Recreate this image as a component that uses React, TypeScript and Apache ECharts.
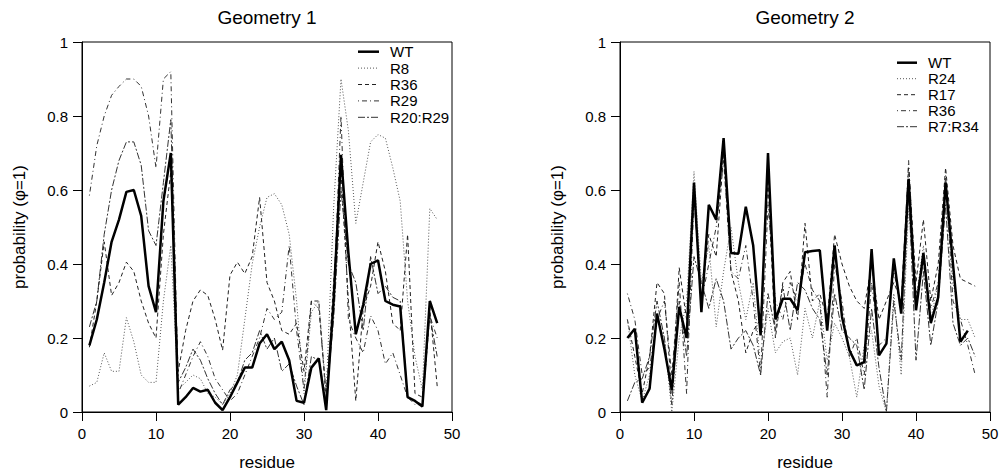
import React, { useEffect, useRef } from "react";
import * as echarts from "echarts";

// ---------- data ----------
const RESIDUES_G1 = [1,2,3,4,5,6,7,8,9,10,11,12,13,14,15,16,17,18,19,20,21,22,23,24,25,26,27,28,29,30,31,32,33,34,35,36,37,38,39,40,41,42,43,44,45,46,47,48];
const RESIDUES_G2 = [1,2,3,4,5,6,7,8,9,10,11,12,13,14,15,16,17,18,19,20,21,22,23,24,25,26,27,28,29,30,31,32,33,34,35,36,37,38,39,40,41,42,43,44,45,46,47,48];

// Geometry 1
const G1_WT = [0.18,0.25,0.35,0.46,0.52,0.595,0.60,0.53,0.34,0.27,0.57,0.70,
  0.02,0.04,0.065,0.055,0.06,0.025,0.005,0.04,0.08,0.12,0.12,0.185,0.21,0.17,0.19,0.14,0.03,0.025,0.12,0.145,0.005,
  0.30,0.695,0.43,0.21,0.29,0.40,0.41,0.30,0.29,0.285,0.04,0.03,0.015,0.30,0.24];
const G1_R8 = [0.07,0.08,0.16,0.11,0.11,0.255,0.19,0.10,0.08,0.08,0.30,0.45,
  0.06,0.08,0.10,0.09,0.05,0.04,0.02,0.05,0.10,0.25,0.40,0.50,0.58,0.59,0.56,0.48,0.30,0.05,0.27,0.30,0.05,
  0.55,0.90,0.76,0.51,0.62,0.73,0.75,0.74,0.66,0.57,0.30,0.15,0.06,0.55,0.52];
const G1_R36 = [0.175,0.30,0.46,0.315,0.35,0.405,0.38,0.30,0.24,0.20,0.48,0.65,
  0.11,0.22,0.30,0.33,0.315,0.25,0.167,0.37,0.405,0.374,0.42,0.58,0.35,0.30,0.22,0.21,0.24,0.11,0.30,0.30,0.03,
  0.35,0.65,0.30,0.03,0.28,0.34,0.46,0.38,0.24,0.22,0.48,0.05,0.04,0.28,0.07];
const G1_R29 = [0.585,0.72,0.80,0.856,0.88,0.90,0.90,0.88,0.80,0.66,0.90,0.92,
  0.05,0.10,0.15,0.19,0.15,0.09,0.06,0.03,0.05,0.10,0.15,0.20,0.28,0.25,0.27,0.45,0.22,0.06,0.30,0.28,0.05,
  0.30,0.80,0.25,0.20,0.16,0.26,0.22,0.13,0.16,0.10,0.04,0.02,0.02,0.26,0.20];
const G1_R20R29 = [0.23,0.30,0.48,0.60,0.68,0.73,0.73,0.667,0.49,0.45,0.62,0.79,
  0.08,0.12,0.17,0.14,0.09,0.05,0.02,0.06,0.08,0.14,0.16,0.22,0.17,0.20,0.11,0.13,0.07,0.02,0.15,0.14,0.03,
  0.25,0.60,0.40,0.35,0.22,0.42,0.32,0.34,0.31,0.30,0.04,0.03,0.02,0.26,0.15];

// Geometry 2
const G2_WT = [0.20,0.225,0.025,0.063,0.266,0.17,0.06,0.284,0.20,0.62,
  0.27,0.56,0.52,0.74,0.43,0.428,0.555,0.45,0.207,0.70,
  0.25,0.306,0.306,0.275,0.432,0.435,0.437,0.22,0.45,0.257,
  0.167,0.126,0.135,0.44,0.153,0.185,0.415,0.266,0.63,0.275,
  0.43,0.24,0.31,0.62,0.40,0.19,0.22];
const G2_R24 = [0.25,0.10,0.03,0.10,0.25,0.20,0.00,0.20,0.30,0.65,
  0.35,0.45,0.23,0.38,0.50,0.35,0.25,0.35,0.12,0.28,
  0.16,0.19,0.20,0.10,0.28,0.20,0.30,0.14,0.24,0.20,
  0.15,0.04,0.18,0.22,0.07,0.00,0.32,0.10,0.55,0.30,
  0.45,0.25,0.35,0.60,0.35,0.25,0.25,0.20];
const G2_R17 = [0.25,0.15,0.05,0.15,0.35,0.32,0.05,0.39,0.25,0.60,
  0.30,0.48,0.42,0.70,0.38,0.30,0.16,0.22,0.25,0.62,
  0.20,0.35,0.38,0.25,0.51,0.30,0.32,0.25,0.48,0.40,
  0.34,0.30,0.28,0.40,0.25,0.30,0.35,0.30,0.66,0.35,
  0.52,0.30,0.40,0.66,0.45,0.36,0.35,0.34];
const G2_R36 = [0.32,0.25,0.10,0.12,0.25,0.30,0.10,0.35,0.05,0.58,
  0.30,0.40,0.50,0.68,0.38,0.36,0.45,0.30,0.10,0.56,
  0.30,0.25,0.35,0.30,0.40,0.33,0.30,0.04,0.40,0.30,
  0.15,0.20,0.10,0.35,0.18,0.20,0.38,0.28,0.68,0.32,
  0.40,0.28,0.35,0.64,0.30,0.25,0.18,0.10];
const G2_R7R34 = [0.03,0.08,0.09,0.15,0.30,0.20,0.02,0.30,0.15,0.42,
  0.35,0.28,0.36,0.30,0.17,0.20,0.22,0.18,0.10,0.32,
  0.22,0.34,0.22,0.35,0.33,0.28,0.25,0.10,0.32,0.22,
  0.20,0.18,0.06,0.28,0.12,0.00,0.30,0.14,0.60,0.14,
  0.38,0.18,0.30,0.56,0.24,0.18,0.20,0.15];

const G1_NAMES = ["WT", "R8", "R36", "R29", "R20:R29"];
const G2_NAMES = ["WT", "R24", "R17", "R36", "R7:R34"];
const TITLES = ["Geometry 1", "Geometry 2"];

// ---------- styling ----------
const FONT = '"Liberation Sans", Arial, Helvetica, sans-serif';
const DASH: Record<string, any> = {
  solid: null,
  dotted: [1, 2],
  dashed: [4, 3],
  dotdash: [1, 3, 5, 3],
  twodash: [7, 2, 2, 2],
};
const STYLE_ORDER = ["solid", "dotted", "dashed", "dotdash", "twodash"];
const THIN_COLOR: Record<string, string> = {
  solid: "#000",
  dotted: "#555",
  dashed: "#222",
  dotdash: "#333",
  twodash: "#333",
};

function mkSeries(name: string, res: number[], vals: number[], styleKey: string, g: number) {
  const isWT = styleKey === "solid";
  return {
    name,
    type: "line",
    xAxisIndex: g,
    yAxisIndex: g,
    data: vals.map((v, i) => [res[i], v]),
    symbol: "none",
    silent: true,
    z: isWT ? 5 : 3,
    lineStyle: {
      color: THIN_COLOR[styleKey],
      width: isWT ? 2.5 : 1,
      type: isWT ? "solid" : DASH[styleKey],
    },
  };
}

function legendGraphics(names: string[], x1: number, x2: number, tx: number, y0: number, dy: number) {
  const els: any[] = [];
  names.forEach((n, i) => {
    const key = STYLE_ORDER[i];
    const y = y0 + i * dy;
    els.push({
      type: "line",
      silent: true,
      shape: { x1, y1: y, x2, y2: y },
      style: {
        stroke: THIN_COLOR[key],
        lineWidth: key === "solid" ? 2.5 : 1,
        lineDash: DASH[key] || undefined,
      },
    });
    els.push({
      type: "text",
      silent: true,
      x: tx,
      y,
      style: { text: n, font: `15px ${FONT}`, fill: "#000", textAlign: "left", textVerticalAlign: "middle" },
    });
  });
  return els;
}

function axisPair(g: number) {
  const common = {
    gridIndex: g,
    type: "value",
    axisLine: { show: true, onZero: false, lineStyle: { color: "#000", width: 1 } },
    axisTick: { show: true, length: 9, lineStyle: { color: "#000", width: 1 } },
    axisLabel: { fontSize: 15, color: "#000", margin: 14, fontFamily: FONT },
    splitLine: { show: false },
    nameLocation: "middle",
    nameTextStyle: { fontSize: 17, color: "#000", fontFamily: FONT },
  };
  return {
    x: { ...common, min: 0, max: 50, interval: 10, name: "residue", nameGap: 42 },
    y: { ...common, min: 0, max: 1, interval: 0.2, name: "probability (φ=1)", nameGap: 54 },
  };
}

export default function App() {
  const ref = useRef<HTMLDivElement>(null);
  useEffect(() => {
    if (!ref.current) return;
    const chart = echarts.init(ref.current, undefined, { renderer: "svg" });
    const a0 = axisPair(0);
    const a1 = axisPair(1);
    const g1Vals = [G1_WT, G1_R8, G1_R36, G1_R29, G1_R20R29];
    const g2Vals = [G2_WT, G2_R24, G2_R17, G2_R36, G2_R7R34];
    const series: any[] = [];
    for (let i = G1_NAMES.length - 1; i >= 0; i--) {
      series.push(mkSeries("G1 " + G1_NAMES[i], RESIDUES_G1, g1Vals[i], STYLE_ORDER[i], 0));
    }
    for (let i = G2_NAMES.length - 1; i >= 0; i--) {
      series.push(mkSeries("G2 " + G2_NAMES[i], RESIDUES_G2, g2Vals[i], STYLE_ORDER[i], 1));
    }
    const gridCommon = {
      top: 42,
      width: 370,
      height: 370,
      show: true,
      borderColor: "#000",
      borderWidth: 1,
      backgroundColor: "transparent",
      containLabel: false,
      outerBoundsMode: "none",
    };
    chart.setOption({
      animation: false,
      backgroundColor: "#fff",
      textStyle: { fontFamily: FONT },
      grid: [
        { ...gridCommon, left: 82 },
        { ...gridCommon, left: 620 },
      ],
      xAxis: [a0.x, a1.x],
      yAxis: [a0.y, a1.y],
      graphic: [
        { type: "text", x: 267, y: 8, style: { text: TITLES[0], font: `19px ${FONT}`, fill: "#000", textAlign: "center", textVerticalAlign: "top" } },
        { type: "text", x: 805, y: 8, style: { text: TITLES[1], font: `19px ${FONT}`, fill: "#000", textAlign: "center", textVerticalAlign: "top" } },
        ...legendGraphics(G1_NAMES, 358, 379, 390, 51.7, 16.4),
        ...legendGraphics(G2_NAMES, 897, 917, 928, 62.7, 16),
      ],
      series,
    });
    return () => chart.dispose();
  }, []);
  return (
    <div
      ref={ref}
      style={{ position: "fixed", left: 0, top: 0, width: 1000, height: 474, background: "#fff" }}
    />
  );
}
